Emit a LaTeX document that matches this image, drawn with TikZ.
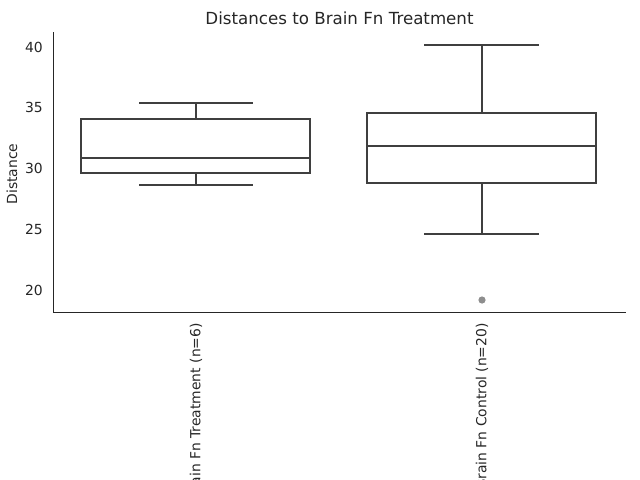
\documentclass[tikz,border=0pt]{standalone}
\usepackage{fontspec}
\setmainfont{DejaVu Sans}
\usetikzlibrary{positioning}
\definecolor{boxgray}{HTML}{3F3F3F}
\definecolor{txtgray}{HTML}{262626}
\definecolor{fliergray}{HTML}{8E8E8E}

\begin{document}
\begin{tikzpicture}[x=0.72pt,y=-0.72pt,
    boxline/.style={draw=boxgray,line width=1.45pt},
    spine/.style={draw=txtgray,line width=0.6pt},
    ticklbl/.style={font=\fontsize{10}{12}\selectfont,text=txtgray,inner sep=0pt}]
    \useasboundingbox (0,0) rectangle (640,480);

    % axes
    \draw[spine] (53,32) -- (53,312) -- (626,312);
    \foreach \v/\yy in {20/290,25/229.3,30/168.6,35/107.9,40/47.2}
      \node[ticklbl,anchor=east] (tick\v) at (43,\yy) {\v};
    \node[ticklbl,rotate=90] (ylabel) at (12,174) {Distance};
    \node[font=\fontsize{12}{14}\selectfont,text=txtgray,inner sep=0pt] (title) at (339.5,18) {Distances to Brain Fn Treatment};

    % treatment
    \draw[boxline]
      (81,119) rectangle (310,173)
      (81,158) -- (310,158)
      (196,119) -- (196,103) (139,103) -- (253,103)
      (196,173) -- (196,185) (139,185) -- (253,185);
    \node[ticklbl,rotate=90,anchor=east] (treat) at (196,323) {Brain Fn Treatment (n=6)};

    % control
    \draw[boxline]
      (366.7,113) rectangle (596,183)
      (366.7,146) -- (596,146)
      (482,113) -- (482,45) (424.3,45) -- (539.3,45)
      (482,183) -- (482,234) (424.3,234) -- (539.3,234);
    \fill[fliergray] (482,300) circle(3.6);
    \node[ticklbl,rotate=90,anchor=east] (ctrl) at (482,323) {Brain Fn Control (n=20)};
\end{tikzpicture}
\end{document}
